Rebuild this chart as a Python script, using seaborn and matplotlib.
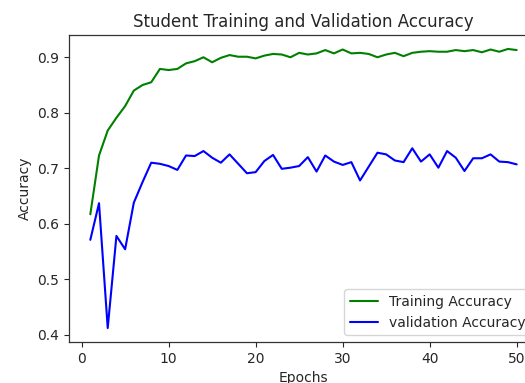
import matplotlib
matplotlib.use("Agg")
import matplotlib.pyplot as plt
import seaborn as sns
import pandas as pd

epochs = list(range(1, 51))
train_acc = [0.617, 0.723, 0.768, 0.791, 0.812, 0.840, 0.850, 0.855, 0.879, 0.877,
             0.879, 0.889, 0.893, 0.900, 0.891, 0.899, 0.904, 0.901, 0.901, 0.898,
             0.903, 0.906, 0.905, 0.900, 0.908, 0.905, 0.907, 0.913, 0.907, 0.914,
             0.907, 0.908, 0.906, 0.900, 0.905, 0.908, 0.902, 0.908, 0.910, 0.911,
             0.910, 0.910, 0.913, 0.911, 0.913, 0.909, 0.914, 0.910, 0.915, 0.913]
val_acc = [0.571, 0.637, 0.412, 0.578, 0.554, 0.638, 0.675, 0.710, 0.708, 0.704,
           0.697, 0.723, 0.722, 0.731, 0.719, 0.710, 0.725, 0.708, 0.691, 0.693,
           0.713, 0.724, 0.699, 0.701, 0.704, 0.720, 0.694, 0.723, 0.712, 0.706,
           0.711, 0.678, 0.703, 0.728, 0.725, 0.714, 0.711, 0.736, 0.712, 0.725,
           0.701, 0.731, 0.719, 0.695, 0.718, 0.718, 0.725, 0.712, 0.711, 0.707]

df = pd.DataFrame({"Epochs": epochs, "train": train_acc, "val": val_acc})

sns.set_style("ticks")
plt.rcParams['font.family'] = ['DejaVu Sans']

fig = plt.figure(figsize=(5.25, 3.83), dpi=100)
ax = fig.add_axes([69 / 525, 1 - 342 / 383, (538 - 69) / 525, (342 - 35) / 383])

sns.lineplot(data=df, x="Epochs", y="train", ax=ax, color="g", linewidth=1.5,
             label="Training Accuracy")
sns.lineplot(data=df, x="Epochs", y="val", ax=ax, color="b", linewidth=1.5,
             label="validation Accuracy")

ax.set_title("Student Training and Validation Accuracy", fontsize=12)
ax.set_xlabel("Epochs", fontsize=10)
ax.set_ylabel("Accuracy", fontsize=10)
ax.tick_params(labelsize=10)
for s in ax.spines.values():
    s.set_color("#333333")
    s.set_linewidth(0.9)
ax.legend(loc="lower right", fontsize=10)

fig.savefig("out.png", dpi=100)
